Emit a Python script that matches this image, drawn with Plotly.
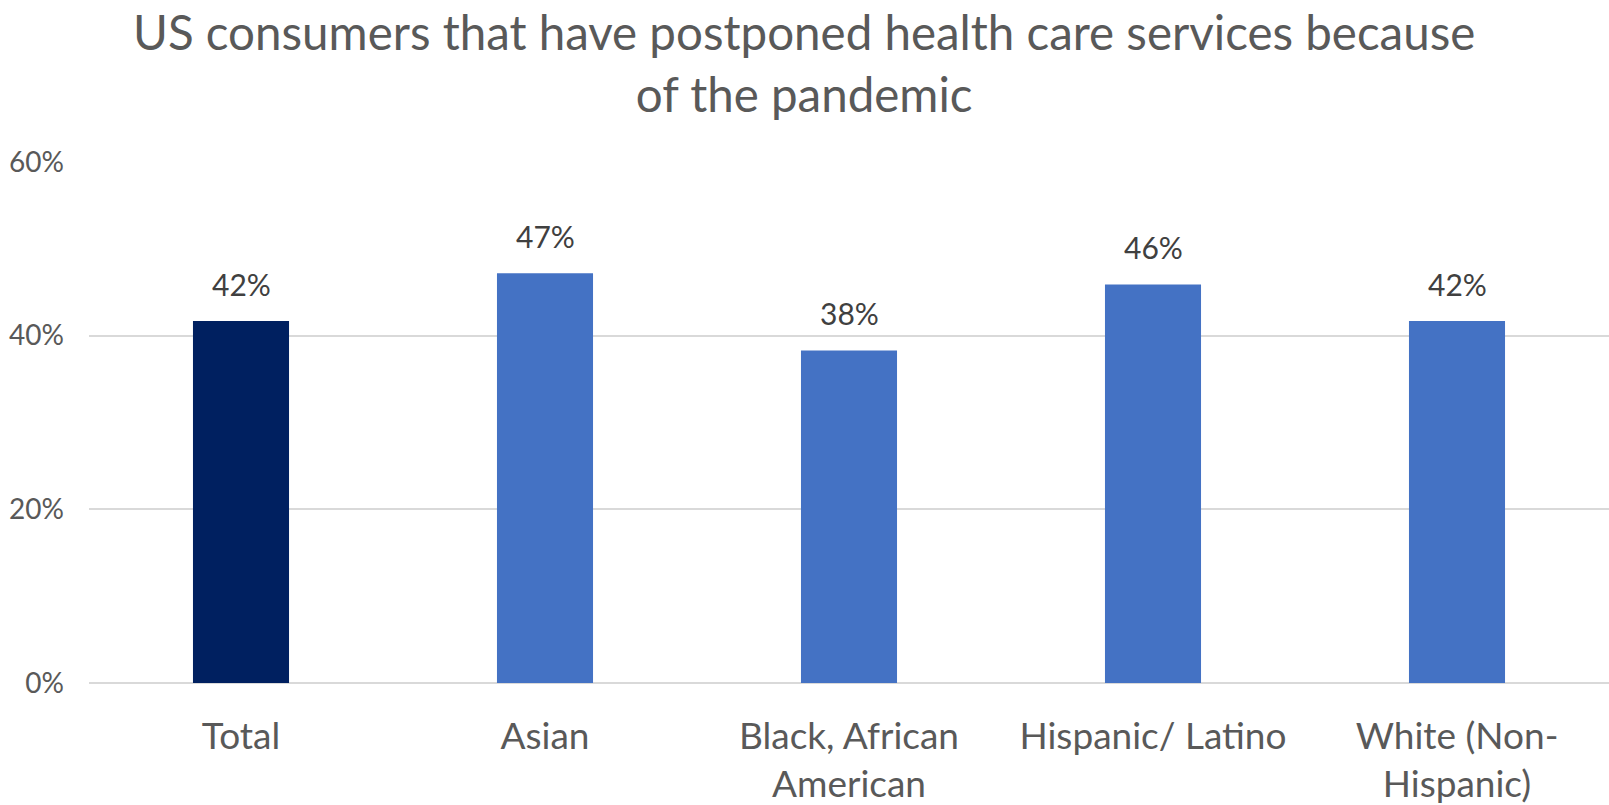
import plotly.graph_objects as go

categories = ["Total", "Asian", "Black, African<br>American", "Hispanic/ Latino", "White (Non-<br>Hispanic)"]
values = [0.417, 0.472, 0.383, 0.459, 0.417]
labels = ["42%", "47%", "38%", "46%", "42%"]
colors = ["#002060", "#4472C4", "#4472C4", "#4472C4", "#4472C4"]
y_ticks = [0, 0.2, 0.4, 0.6]
y_tick_text = ["0%", "20%", "40%", "60%"]
title_text = "US consumers that have postponed health care services because<br>of the pandemic"

FONT = "Lato"

fig = go.Figure()
fig.add_trace(go.Bar(
    x=categories, y=values,
    marker=dict(color=colors, line=dict(width=0)),
    hoverinfo="skip",
))

for c, v, t in zip(categories, values, labels):
    fig.add_annotation(
        x=c, y=v, text=t, showarrow=False, yanchor="bottom",
        yshift=17, font=dict(family=FONT, size=30, color="#404040"),
    )

# chart title (centred on the whole chart, not the plot area)
fig.add_annotation(
    xref="paper", yref="paper", x=0.5, y=1, xanchor="center", yanchor="top",
    xshift=-45, yshift=161, text=title_text, showarrow=False,
    font=dict(family=FONT, size=47.5, color="#595959"),
)

fig.update_layout(
    width=1609, height=805,
    paper_bgcolor="white", plot_bgcolor="white",
    margin=dict(l=89, r=0, t=162, b=122),
    bargap=0.684,
    showlegend=False,
    xaxis=dict(
        showgrid=False, showline=False, zeroline=False, ticks="",
        tickfont=dict(family=FONT, size=37, color="#595959"),
        ticklabelstandoff=28, automargin=False,
    ),
    yaxis=dict(
        range=[0, 0.6], tickvals=y_ticks, ticktext=y_tick_text,
        showgrid=True, gridcolor="#D9D9D9", gridwidth=2,
        zeroline=True, zerolinecolor="#D9D9D9", zerolinewidth=2,
        showline=False, ticks="",
        tickfont=dict(family=FONT, size=28, color="#595959"),
        ticklabelstandoff=24, automargin=False,
    ),
)

fig.write_html(
    "out.html",
    config={"displayModeBar": False},
    post_script="document.body.style.margin='0';document.body.style.overflow='hidden';",
)
